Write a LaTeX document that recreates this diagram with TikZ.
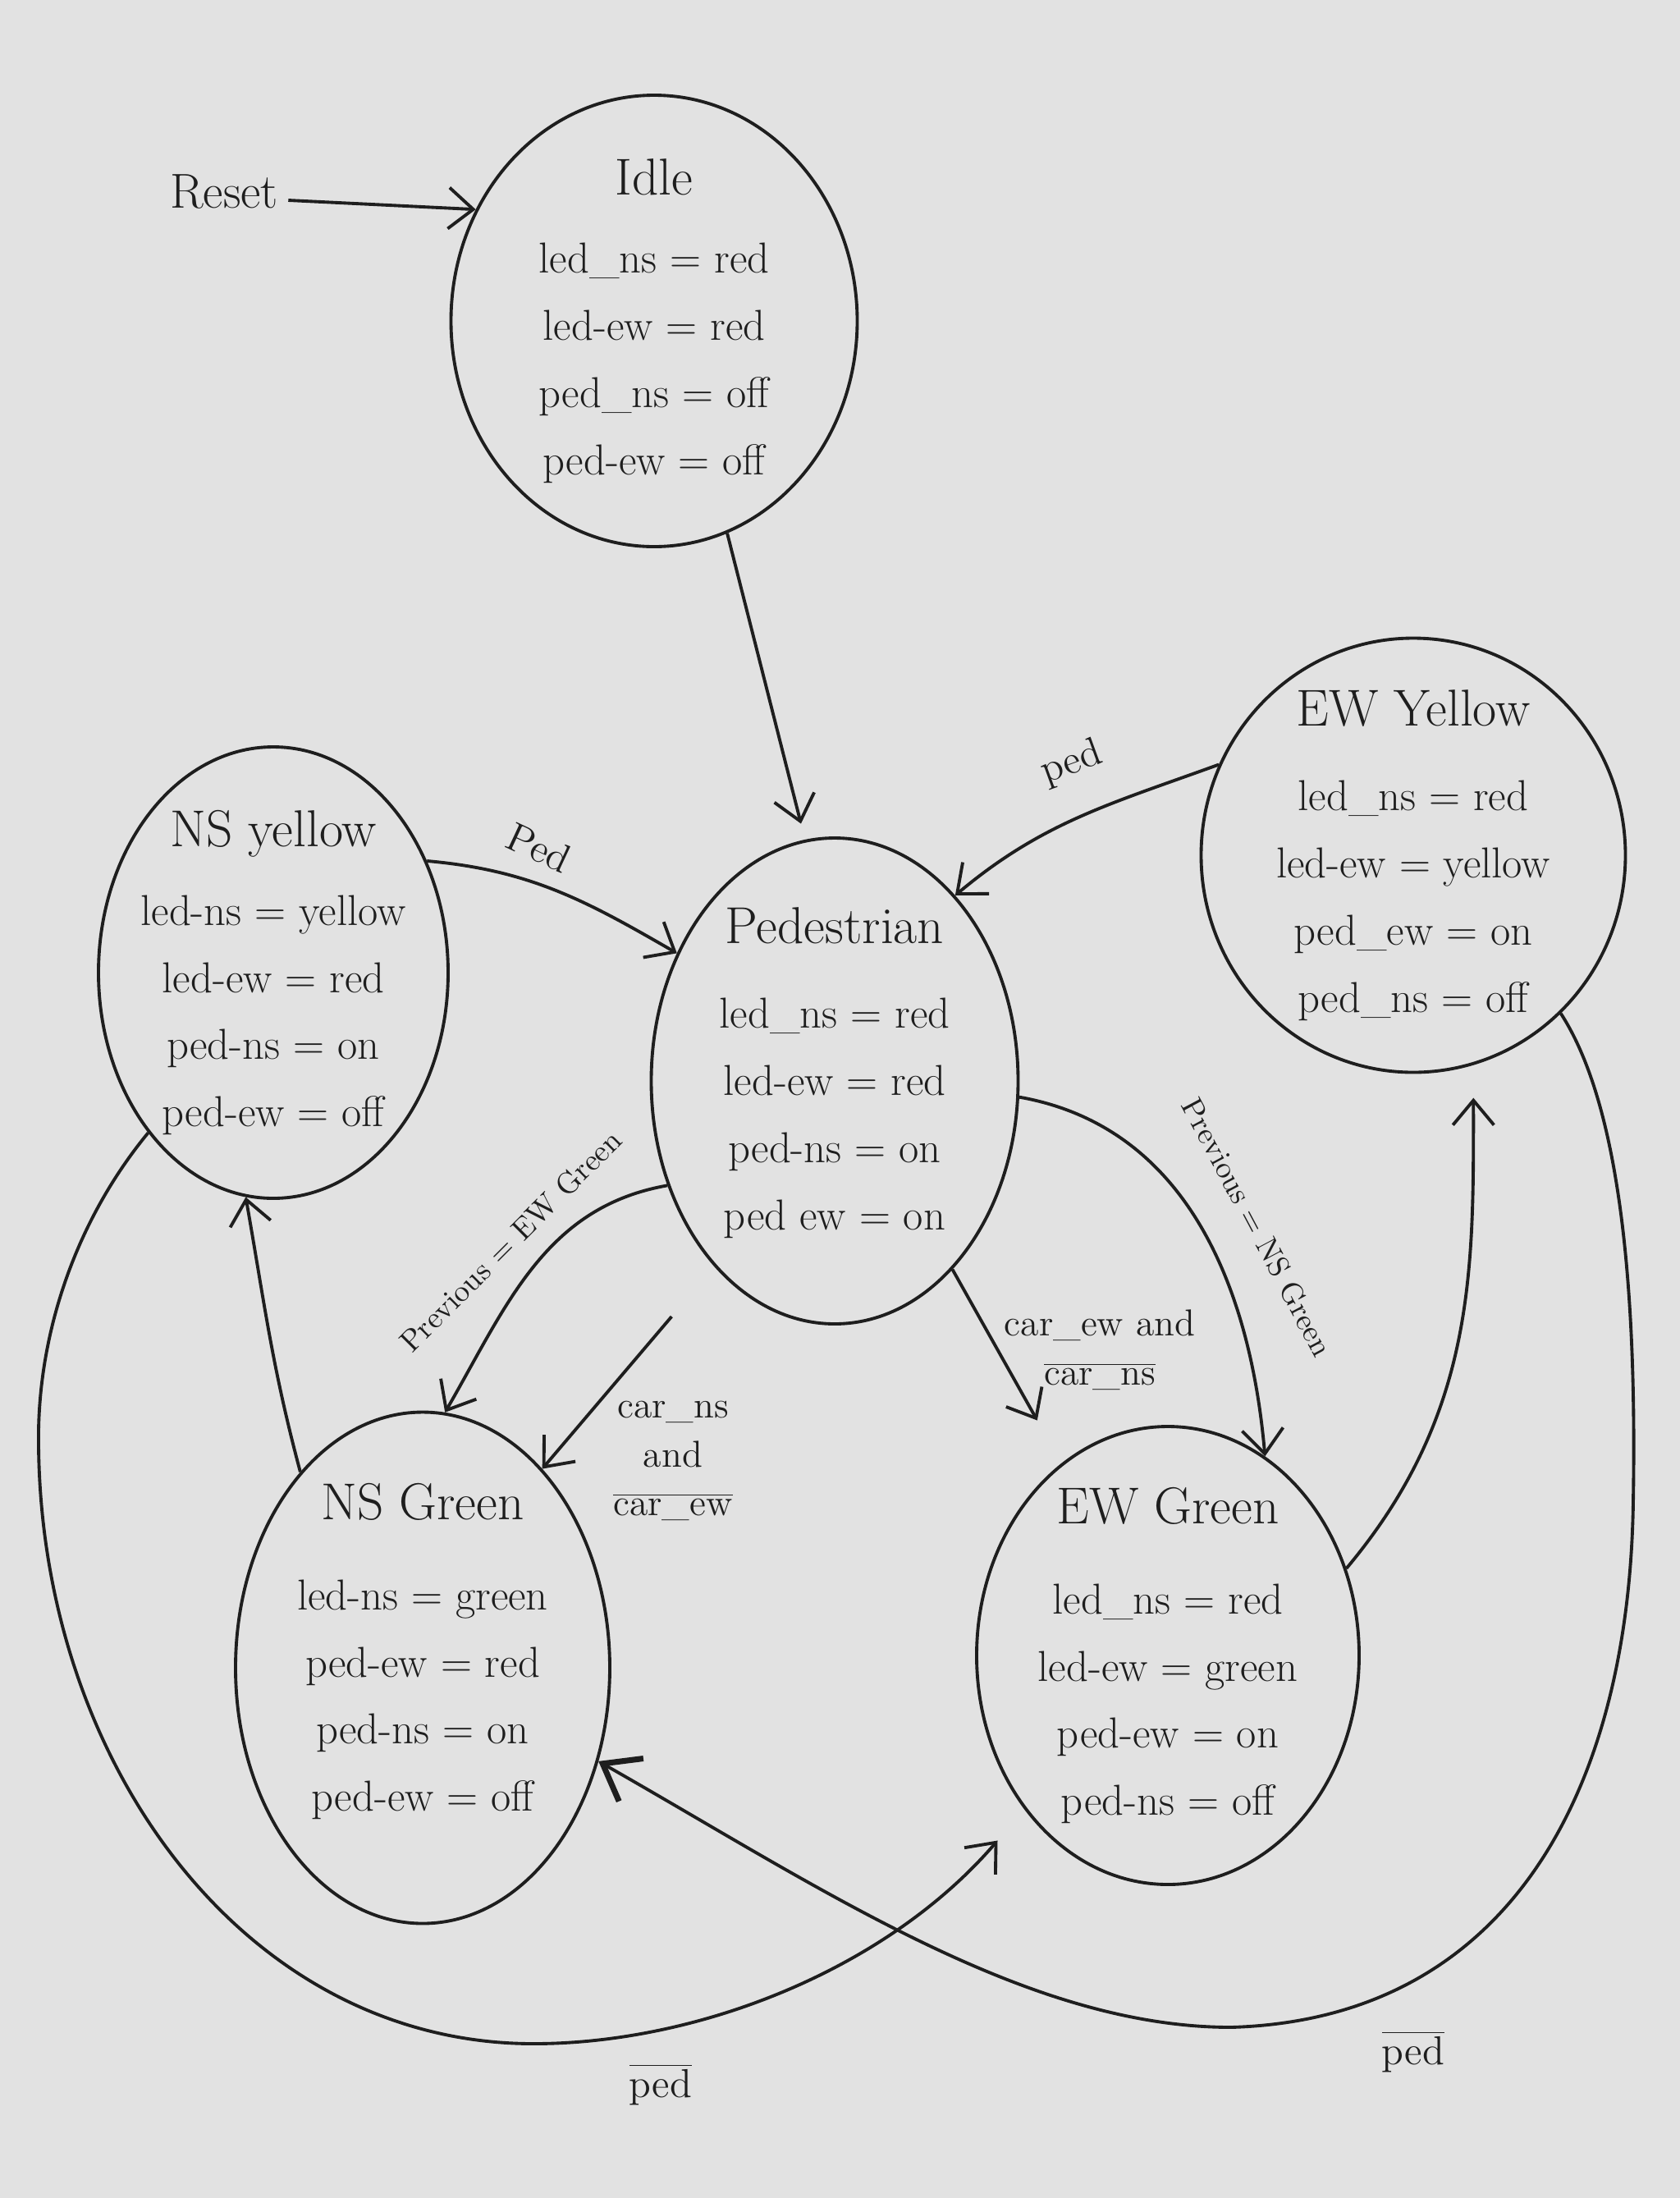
\documentclass[tikz,border=0pt]{standalone}
\usepackage{tikz}
\usetikzlibrary{arrows.meta,shapes.geometric}
\definecolor{paper}{RGB}{226,226,226}
\definecolor{pen}{RGB}{30,30,30}
\def\sttl#1{{\fontsize{18}{22}\selectfont #1}}
\def\negsig#1{$\overline{\mbox{#1}}$}

\tikzset{
  state/.style={draw=pen, ellipse, line width=1.1pt, inner sep=0pt},
  stxt/.style={align=center, text=pen, font=\fontsize{15}{23.3}\selectfont},
  trans/.style={draw=pen, line width=1.1pt, -{Straight Barb[length=3mm,width=5mm]}},
  bigtip/.style={-{Straight Barb[length=4mm,width=6mm,line width=2pt]}},
  lbl/.style={text=pen, font=\fontsize{14}{17}\selectfont, align=center},
  lblsm/.style={text=pen, font=\fontsize{10.5}{12}\selectfont},
}

\begin{document}
\begin{tikzpicture}
		%%%%% PAPER %%%%%
		\useasboundingbox (0,0) rectangle (20.47,-26.78);
		\fill[paper] (0,0) rectangle (20.47,-26.78);
		
		%%%%% STATES %%%%%
		\node[state, minimum width=4.95cm, minimum height=5.5cm] (idle) at (7.97,-3.91) {};
		\node[stxt] (idletxt) at (idle) {\sttl{Idle}\\[4pt] led\_ns = red\\ led-ew = red\\ ped\_ns = off\\ ped-ew = off};
		
		\node[state, minimum width=4.26cm, minimum height=5.5cm] (nsy) at (3.33,-11.85) {};
		\node[stxt] (nsytxt) at (nsy) {\sttl{NS yellow}\\[4pt] led-ns = yellow\\ led-ew = red\\ ped-ns = on\\ ped-ew = off};
		
		\node[state, minimum width=4.47cm, minimum height=5.92cm] (ped) at (10.17,-13.17) {};
		\node[stxt] (pedtxt) at ([yshift=1mm]ped) {\sttl{Pedestrian}\\[6pt] led\_ns = red\\ led-ew = red\\ ped-ns = on\\ ped ew = on};
		
		\node[state, minimum width=5.17cm, minimum height=5.29cm] (ewy) at (17.22,-10.42) {};
		\node[stxt] (ewytxt) at (ewy) {\sttl{EW Yellow}\\[6pt] led\_ns = red\\ led-ew = yellow\\ ped\_ew = on\\ ped\_ns = off};
		
		\node[state, minimum width=4.56cm, minimum height=6.23cm] (nsg) at (5.15,-20.32) {};
		\node[stxt] (nsgtxt) at ([yshift=2mm]nsg) {\sttl{NS Green}\\[8pt] led-ns = green\\ ped-ew = red\\ ped-ns = on\\ ped-ew = off};
		
		\node[state, minimum width=4.66cm, minimum height=5.58cm] (ewg) at (14.23,-20.17) {};
		\node[stxt] (ewgtxt) at (ewg) {\sttl{EW Green}\\[8pt] led\_ns = red\\ led-ew = green\\ ped-ew = on\\ ped-ns = off};
		
		%%%%% RESET %%%%%
		\node[lbl, font=\fontsize{17}{20}\selectfont] (reset) at (2.73,-2.34) {Reset};
		\draw[trans] ([yshift=-1mm]reset.east) -- (idle.148);
		
		%%%%% TRANSITIONS %%%%%
		\draw[trans, shorten >=2mm] (idle.289) -- (ped.97);
		\draw[trans] (nsy.36) to[out=-5,in=150] (ped.141);
		\draw[trans] (ewy.155) to[out=200,in=40] (ped.57);
		\draw[trans] (ped.212) to[out=190,in=60] (nsg.85);
		\draw[trans, shorten <=8mm] (ped.237) -- (nsg.59);
		\draw[trans, shorten >=6mm] (ped.302) -- (ewg.119);
		\draw[trans] (ped.355) to[out=-10,in=95] (ewg.64);
		\draw[trans] (nsg.122) to[out=105,in=-80] (nsy.263);
		\draw[trans, shorten >=4mm] (ewg.26) to[out=50,in=-90] (ewy.286);
		
		% long loops round the bottom
		\draw[trans, shorten >=5mm] (nsy.232) .. controls (0.9,-14.9) and (0.45,-16.3) .. (0.47,-17.6)
			.. controls (0.5,-21.5) and (3.0,-24.9) .. (6.5,-24.9)
			.. controls (8.5,-24.9) and (10.8,-24.0) .. (ewg.227);
		\draw[trans, bigtip] (ewy.313) .. controls (19.7,-13.4) and (19.95,-15.5) .. (19.9,-18.3)
			.. controls (19.85,-21.8) and (18.4,-24.6) .. (15.0,-24.7)
			.. controls (12.5,-24.7) and (10.0,-23.0) .. (nsg.-28);
		
		%%%%% LABELS %%%%%
		\node[lbl, rotate=-25] (lbnsy) at (6.57,-10.33) {Ped};
		\node[lbl, rotate=20] (lbewy) at (13.06,-9.30) {ped};
		\node[lblsm, rotate=45] (lbprevew) at (6.22,-15.12) {Previous = EW Green};
		\node[lblsm, rotate=-62] (lbprevns) at (15.32,-14.95) {Previous = NS Green};
		\node[lbl, font=\fontsize{13}{17}\selectfont] (lbcarns) at (8.20,-17.80) {car\_ns\\ and\\ \negsig{car\_ew}};
		\node[lbl, font=\fontsize{13}{17}\selectfont] (lbcarew) at (13.40,-16.45) {car\_ew and\\ \negsig{car\_ns}};
		\node[lbl] (lbnpedl) at (8.05,-25.40) {\negsig{ped}};
		\node[lbl] (lbnpedr) at (17.22,-25.00) {\negsig{ped}};
\end{tikzpicture}
\end{document}
